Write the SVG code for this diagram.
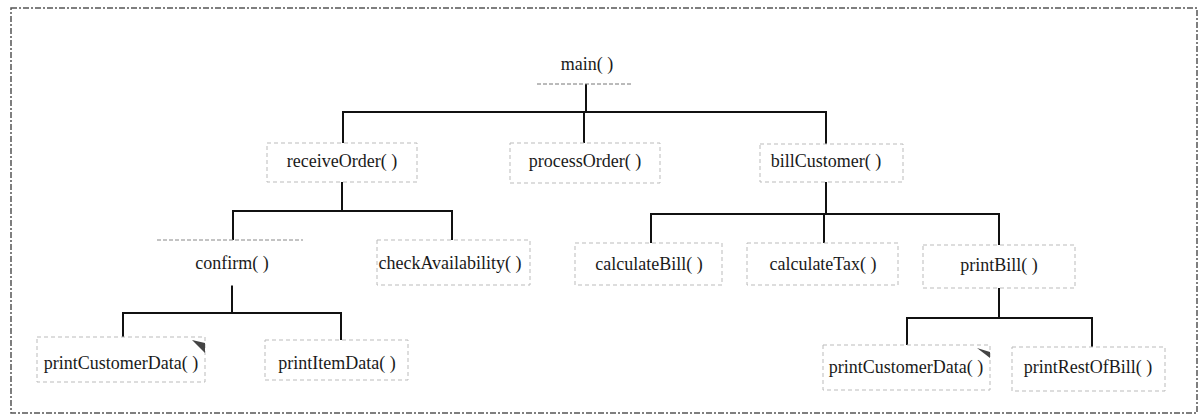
<svg xmlns="http://www.w3.org/2000/svg" width="1200" height="417" viewBox="0 0 1200 417">
<style>
.frame{fill:none;stroke:#555;stroke-width:1.5;stroke-dasharray:6 2 2 2}
.box{fill:#fff;stroke:#bbb;stroke-width:1;stroke-dasharray:4 3}
.lbl{font-family:"Liberation Serif","Times New Roman",serif;font-size:18px;fill:#1a1a1a;text-anchor:middle}
.conn{fill:none;stroke:#111;stroke-width:2}
.tri{fill:#444}
</style>
<rect width="1200" height="417" fill="#fff"/>
<rect class="frame" x="11" y="8" width="1186" height="405"/>
<g id="connectors">
<polyline class="conn" points="586,84 586,112"/>
<polyline class="conn" points="343,143 343,112 826,112 826,144"/>
<polyline class="conn" points="584,112 584,143"/>
<polyline class="conn" points="342,182 342,211"/>
<polyline class="conn" points="233,240 233,211 452,211 452,240"/>
<polyline class="conn" points="232,285 232,313"/>
<polyline class="conn" points="123,337 123,313 341,313 341,340"/>
<polyline class="conn" points="826,182 826,214"/>
<polyline class="conn" points="651,243 651,214 999,214 999,245"/>
<polyline class="conn" points="824,214 824,243"/>
<polyline class="conn" points="999,288 999,318"/>
<polyline class="conn" points="907,347 907,318 1092,318 1092,347"/>
</g>
<g id="main">
<line x1="537" y1="84" x2="632" y2="84" stroke="#777" stroke-width="1" stroke-dasharray="4 2"/>
<text class="lbl" x="587" y="70">main( )</text>
</g>
<g id="receiveOrder">
<rect class="box" x="267" y="143" width="150" height="39"/>
<text class="lbl" x="342" y="167">receiveOrder( )</text>
</g>
<g id="processOrder">
<rect class="box" x="510" y="143" width="150" height="40"/>
<text class="lbl" x="585" y="167">processOrder( )</text>
</g>
<g id="billCustomer">
<rect class="box" x="760" y="144" width="143" height="38"/>
<text class="lbl" x="826" y="167">billCustomer( )</text>
</g>
<g id="confirm">
<rect class="box" x="157" y="240" width="146" height="45" style="stroke:#fff"/>
<line x1="157" y1="240" x2="303" y2="240" stroke="#888" stroke-width="1" stroke-dasharray="4 2"/>
<text class="lbl" x="232" y="269">confirm( )</text>
</g>
<g id="checkAvailability">
<rect class="box" x="377" y="240" width="153" height="45"/>
<text class="lbl" x="450" y="269">checkAvailability( )</text>
</g>
<g id="calculateBill">
<rect class="box" x="575" y="243" width="147" height="42"/>
<text class="lbl" x="649" y="270">calculateBill( )</text>
</g>
<g id="calculateTax">
<rect class="box" x="747" y="243" width="151" height="42"/>
<text class="lbl" x="823" y="270">calculateTax( )</text>
</g>
<g id="printBill">
<rect class="box" x="923" y="245" width="152" height="43"/>
<text class="lbl" x="999" y="271">printBill( )</text>
</g>
<g id="printCustomerData1">
<rect class="box" x="37" y="337" width="168" height="45"/>
<polygon class="tri" points="192,340 205,343 205,353"/>
<text class="lbl" x="121" y="369">printCustomerData( )</text>
</g>
<g id="printItemData">
<rect class="box" x="265" y="340" width="143" height="40"/>
<text class="lbl" x="337" y="369">printItemData( )</text>
</g>
<g id="printCustomerData2">
<rect class="box" x="823" y="345" width="167" height="45"/>
<polygon class="tri" points="977,348 990,352 990,358"/>
<text class="lbl" x="906" y="373">printCustomerData( )</text>
</g>
<g id="printRestOfBill">
<rect class="box" x="1012" y="347" width="153" height="44"/>
<text class="lbl" x="1088" y="373">printRestOfBill( )</text>
</g>
</svg>
